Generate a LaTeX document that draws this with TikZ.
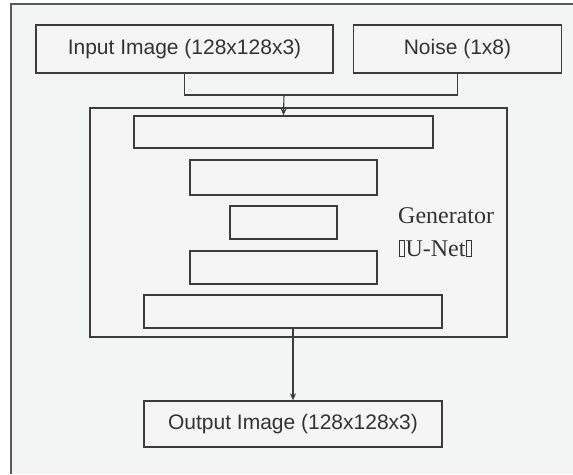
\documentclass[tikz,border=0pt]{standalone}
\usepackage{fontspec}
\setmainfont{Liberation Serif}
\setsansfont{Liberation Sans}
\usetikzlibrary{arrows.meta}
\definecolor{paper}{HTML}{F3F4F4}
\definecolor{boxfill}{HTML}{F5F5F5}
\definecolor{ink}{HTML}{3C3C3C}
\definecolor{txt}{HTML}{333333}
% hollow placeholder glyph for characters the font cannot show
\newcommand\tofuglyph{{\setlength\fboxsep{0pt}\setlength\fboxrule{0.9pt}\kern0.5pt\fbox{\rule{0pt}{15pt}\kern4.5pt}\kern0.5pt}}
\begin{document}
\begin{tikzpicture}[x=1pt,y=-1pt,
  blockbox/.style={draw=ink,line width=1.4pt,fill=boxfill,rectangle,inner sep=0pt,
    text=txt,font=\sffamily\fontsize{21}{24}\selectfont},
  layerbox/.style={draw=ink,line width=1.4pt,fill=boxfill,rectangle,inner sep=0pt},
  link/.style={draw=ink,line width=1.1pt},
  arrowlink/.style={link,-{Stealth[length=7pt,width=6pt]}}]
  \useasboundingbox (0,0) rectangle (573,474);
  % background sheet with left and top edges of its frame
  \fill[white] (0,0) rectangle (573,474);
  \fill[paper] (11,4) rectangle (573,474);
  \draw[ink!85,line width=1.5pt] (11,474) -- (11,4) -- (573,4);

  % inputs
  \node[blockbox,minimum width=297pt,minimum height=48pt] (in) at (184.5,49) {Input Image (128x128x3)};
  \node[blockbox,minimum width=208pt,minimum height=48pt] (noise) at (457.5,49) {Noise (1x8)};

  % generator frame and its layers
  \node[layerbox,minimum width=417pt,minimum height=229pt] (gen) at (298.5,222.5) {};
  \node[layerbox,minimum width=299pt,minimum height=32pt] (l1) at (283.5,132) {};
  \node[layerbox,minimum width=187pt,minimum height=35pt] (l2) at (283.5,177.5) {};
  \node[layerbox,minimum width=107pt,minimum height=33pt] (l3) at (283.5,222.5) {};
  \node[layerbox,minimum width=187pt,minimum height=33pt] (l4) at (283.5,267.5) {};
  \node[layerbox,minimum width=298pt,minimum height=33pt] (l5) at (293,311.5) {};
  \node[anchor=base west,inner sep=0pt,align=left,text=txt,
    font=\rmfamily\fontsize{24}{33}\selectfont] (genlabel) at (398,256)
    {Generator\\\tofuglyph U-Net\tofuglyph};

  % output
  \node[blockbox,minimum width=298pt,minimum height=46pt] (out) at (293,424) {Output Image (128x128x3)};

  % connectors
  \coordinate (join) at (284,95);
  \draw[link] (in.south) |- (join) -| (noise.south);
  \draw[arrowlink] (join) -- (l1.north);
  \draw[arrowlink] (l5.south) -- (out.north);
\end{tikzpicture}
\end{document}
